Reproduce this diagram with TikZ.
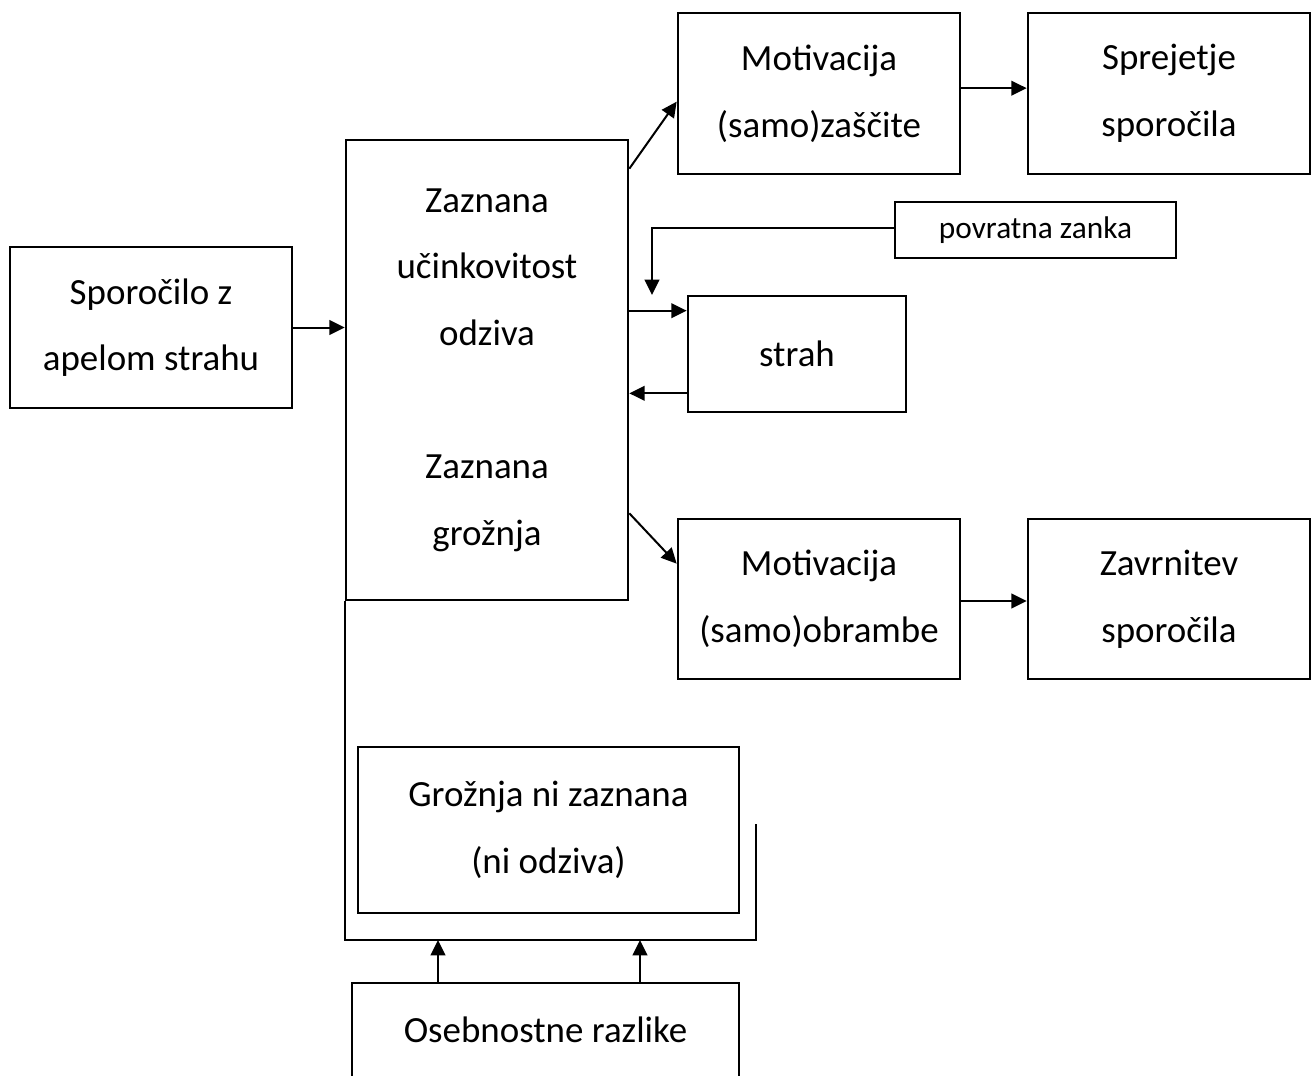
\documentclass[tikz,border=0pt]{standalone}
\usepackage{fontspec}
\setmainfont{Carlito}
\usetikzlibrary{arrows.meta,calc}
\begin{document}
\begin{tikzpicture}[x=0.75pt,y=-0.75pt,
  box/.style={draw,line width=2pt,inner sep=0pt,align=center,
    font=\fontsize{27.7}{50}\selectfont},
  arr/.style={line width=1.5pt,-{Triangle[length=11.5pt,width=11pt]}},
  ln/.style={line width=1.5pt}]
\useasboundingbox (0,0) rectangle (1315,1078);
\begin{scope}
\clip (-5,-5) rectangle (1320,1075);
\node[box,minimum width=211.5pt,minimum height=120.75pt] (spor) at (151,327.5) {Sporočilo z\\apelom strahu};
\node[box,minimum width=211.5pt,minimum height=345pt] (central) at (487,370) {Zaznana\\učinkovitost\\odziva\\\mbox{}\\Zaznana\\grožnja};
\node[box,minimum width=211.5pt,minimum height=120.75pt] (mz) at (819,93.5) {Motivacija\\(samo)zaščite};
\node[box,minimum width=211.5pt,minimum height=120.75pt] (sprej) at (1169,93.5) {Sprejetje\\sporočila};
\node[box,minimum width=210.75pt,minimum height=42pt,font=\fontsize{23.5}{30}\selectfont] (povr) at (1035.5,230) {povratna zanka};
\node[box,minimum width=163.5pt,minimum height=87pt] (strah) at (797,354) {strah};
\node[box,minimum width=211.5pt,minimum height=120pt] (mo) at (819,599) {Motivacija\\(samo)obrambe};
\node[box,minimum width=211.5pt,minimum height=120pt] (zavr) at (1169,599) {Zavrnitev\\sporočila};
\node[box,minimum width=285.75pt,minimum height=124.5pt] (gnz) at (548.5,830) {Grožnja ni zaznana\\(ni odziva)};
\node[box,minimum width=290.25pt,minimum height=70.5pt] (oseb) at (545.5,1030) {Osebnostne razlike};

\draw[arr] (spor.east) -- (spor.east -| central.west);

\coordinate (c1) at ([yshift=-22.5pt]central.north east);
\coordinate (c2) at ([yshift=-67.5pt]mz.north west);
\draw[arr] (c1) -- (c2);
\draw[arr] ([yshift=4pt]mz.east) -- ([yshift=4pt]sprej.west);

\coordinate (d1) at ([yshift=66pt]central.south east);
\coordinate (d2) at ([yshift=-34.5pt]mo.north west);
\draw[arr] (d1) -- (d2);
\draw[arr] ([yshift=-1.5pt]mo.east) -- ([yshift=-1.5pt]zavr.west);

\coordinate (fb) at (652,295);
\draw[arr] ([yshift=1.5pt]povr.west) -| (fb);

\coordinate (a) at ([yshift=-12pt]strah.north west);
\draw[arr] (central.east |- a) -- (a);
\coordinate (b) at ([yshift=15pt]strah.south west);
\draw[arr] (b) -- (central.east |- b);

\coordinate (br) at (756,940);
\coordinate (bt) at (756,824);
\draw[ln] (central.south west) |- (br) -- (bt);

\coordinate (u1) at (438,940);
\coordinate (u2) at (640,940);
\draw[arr] (oseb.north -| u1) -- (u1);
\draw[arr] (oseb.north -| u2) -- (u2);
\end{scope}
\end{tikzpicture}
\end{document}
